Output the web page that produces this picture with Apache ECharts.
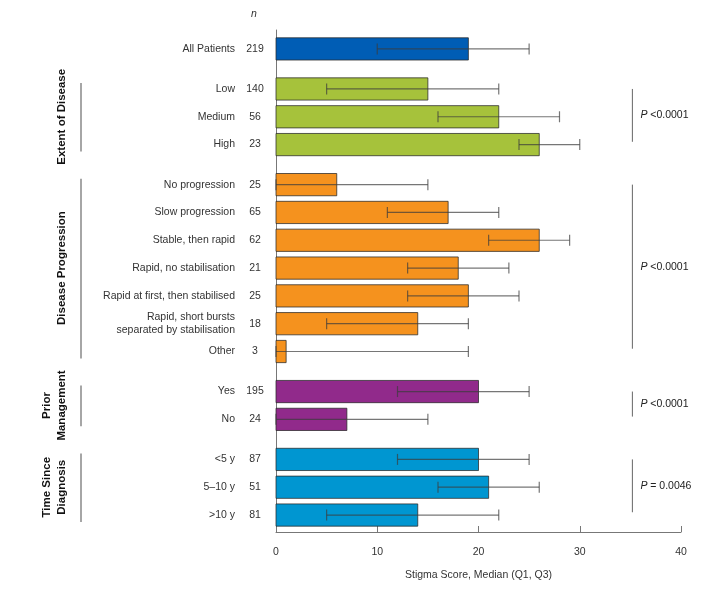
<!DOCTYPE html>
<html>
<head>
<meta charset="utf-8">
<script src="https://cdn.jsdelivr.net/npm/echarts@6/dist/echarts.min.js"></script>
<style>
  html, body { margin: 0; padding: 0; background: #fff; }
  #chart { width: 709px; height: 590px; }
</style>
</head>
<body>
<div id="chart"></div>
<script>
// rows, top to bottom
var categories = ['All Patients', 'Low', 'Medium', 'High',
    'No progression', 'Slow progression', 'Stable, then rapid', 'Rapid, no stabilisation',
    'Rapid at first, then stabilised', 'Rapid, short bursts\nseparated by stabilisation', 'Other',
    'Yes', 'No', '<5 y', '5\u201310 y', '>10 y'];
var nValues = [219, 140, 56, 23, 25, 65, 62, 21, 25, 18, 3, 195, 24, 87, 51, 81];
var medians = [19, 15, 22, 26, 6, 17, 26, 18, 19, 14, 1, 20, 7, 20, 21, 14];
var q1Values = [10, 5, 16, 24, 0, 11, 21, 13, 13, 5, 0, 12, 0, 12, 16, 5];
var q3Values = [25, 22, 28, 30, 15, 22, 29, 23, 24, 19, 19, 25, 15, 25, 26, 22];
var groupOf = [0, 1, 1, 1, 2, 2, 2, 2, 2, 2, 2, 3, 3, 4, 4, 4];
var groupNames = ['', 'Extent of Disease', 'Disease Progression', 'Prior\nManagement', 'Time Since\nDiagnosis'];
var pValues = ['', '<0.0001', '<0.0001', '<0.0001', '= 0.0046'];
var xTicks = [0, 10, 20, 30, 40];

var groupColors = ['#005DB5', '#A6C23B', '#F5921E', '#912A8B', '#0096D1'];
var FONT = 'Liberation Sans, Arial, Helvetica, sans-serif';
var GAP = 0.44;      // extra space between groups, in rows
var P_X = 35;        // where the p-value brackets sit on the x scale

var rowPos = categories.map(function (c, i) { return i + GAP * groupOf[i]; });

var barData = medians.map(function (m, i) { return [m, rowPos[i], groupOf[i]]; });
var errData = medians.map(function (m, i) { return [q1Values[i], q3Values[i], rowPos[i]]; });
var labelData = categories.map(function (c, i) { return [0, rowPos[i], i]; });

// first / last row of each group
var groupData = [];
for (var g = 1; g < groupNames.length; g++) {
    var first = groupOf.indexOf(g), last = groupOf.lastIndexOf(g);
    groupData.push([rowPos[first], rowPos[last], g]);
}

var chart = echarts.init(document.getElementById('chart'));

var option = {
    animation: false,
    grid: { left: 276, right: 28, top: 30, bottom: 58 },
    xAxis: {
        type: 'value',
        min: xTicks[0],
        max: xTicks[xTicks.length - 1],
        interval: 10,
        axisLine: { show: true, onZero: false, lineStyle: { color: '#777', width: 1 } },
        axisTick: { show: true, inside: true, length: 6, lineStyle: { color: '#777' } },
        splitLine: { show: false },
        axisLabel: { color: '#333', fontSize: 10.5, fontFamily: FONT, margin: 15 },
        name: 'Stigma Score, Median (Q1, Q3)',
        nameLocation: 'middle',
        nameGap: 38,
        nameTextStyle: { color: '#333', fontSize: 10.5, fontFamily: FONT }
    },
    yAxis: {
        type: 'value',
        inverse: true,
        min: -0.68,
        max: rowPos[rowPos.length - 1] + 0.61,
        axisLine: { show: true, onZero: false, lineStyle: { color: '#777', width: 1 } },
        axisTick: { show: false },
        axisLabel: { show: false },
        splitLine: { show: false }
    },
    graphic: [{
        type: 'text', left: 251, top: 9,
        style: { text: 'n', fontSize: 10.5, fontStyle: 'italic', fontFamily: FONT, fill: '#333' }
    }],
    series: [
        {
            // bars
            type: 'custom',
            silent: true,
            data: barData,
            encode: { x: 0, y: 1 },
            renderItem: function (params, api) {
                var start = api.coord([0, api.value(1)]);
                var end = api.coord([api.value(0), api.value(1)]);
                var h = api.size([0, 1])[1] * 0.8;
                return {
                    type: 'rect',
                    shape: { x: start[0], y: start[1] - h / 2, width: end[0] - start[0], height: h },
                    style: { fill: groupColors[api.value(2)], stroke: 'rgba(40,40,40,0.75)', lineWidth: 1 }
                };
            }
        },
        {
            // Q1 - Q3 whiskers
            type: 'custom',
            silent: true,
            data: errData,
            encode: { x: [0, 1], y: 2 },
            renderItem: function (params, api) {
                var a = api.coord([api.value(0), api.value(2)]);
                var b = api.coord([api.value(1), api.value(2)]);
                var cap = 5.5;
                var st = { stroke: 'rgba(60,60,60,0.7)', lineWidth: 1.2 };
                return {
                    type: 'group',
                    children: [
                        { type: 'line', shape: { x1: a[0], y1: a[1], x2: b[0], y2: b[1] }, style: st },
                        { type: 'line', shape: { x1: a[0], y1: a[1] - cap, x2: a[0], y2: a[1] + cap }, style: st },
                        { type: 'line', shape: { x1: b[0], y1: b[1] - cap, x2: b[0], y2: b[1] + cap }, style: st }
                    ]
                };
            }
        },
        {
            // row labels and n
            type: 'custom',
            silent: true,
            data: labelData,
            encode: { x: 0, y: 1 },
            renderItem: function (params, api) {
                var p = api.coord([0, api.value(1)]);
                var i = api.value(2);
                return {
                    type: 'group',
                    children: [
                        {
                            type: 'text', x: p[0] - 41, y: p[1],
                            style: {
                                text: categories[i], fill: '#333', fontSize: 10.5, fontFamily: FONT,
                                align: 'right', verticalAlign: 'middle', lineHeight: 12.5
                            }
                        },
                        {
                            type: 'text', x: p[0] - 21, y: p[1],
                            style: {
                                text: String(nValues[i]), fill: '#333', fontSize: 10.5, fontFamily: FONT,
                                align: 'center', verticalAlign: 'middle'
                            }
                        }
                    ]
                };
            }
        },
        {
            // group titles, left brackets, p-value brackets
            type: 'custom',
            silent: true,
            data: groupData,
            encode: { y: [0, 1] },
            renderItem: function (params, api) {
                var g = api.value(2);
                var top = api.coord([0, api.value(0)]);
                var bot = api.coord([0, api.value(1)]);
                var pTop = api.coord([P_X, api.value(0)]);
                var pBot = api.coord([P_X, api.value(1) - 0.1]);
                var mid = (top[1] + bot[1]) / 2;
                var lines = groupNames[g].split('\n').length;
                var lineX = top[0] - 195;
                return {
                    type: 'group',
                    children: [
                        {
                            type: 'line',
                            shape: { x1: lineX, y1: top[1] - 6, x2: lineX, y2: bot[1] + 7 },
                            style: { stroke: '#888', lineWidth: 1.5 }
                        },
                        {
                            type: 'text', x: lineX - 19 - (lines - 1) * 7.5, y: mid, rotation: Math.PI / 2,
                            style: {
                                text: groupNames[g], fill: '#111', fontSize: 11.5, fontWeight: 'bold',
                                fontFamily: FONT, align: 'center', verticalAlign: 'middle', lineHeight: 15
                            }
                        },
                        {
                            type: 'line',
                            shape: { x1: pTop[0] + 2, y1: pTop[1], x2: pTop[0] + 2, y2: pBot[1] },
                            style: { stroke: '#666', lineWidth: 1 }
                        },
                        {
                            type: 'text', x: pTop[0] + 10, y: (pTop[1] + pBot[1]) / 2,
                            style: {
                                text: '{i|P} ' + pValues[g], fill: '#222', fontSize: 10.5, fontFamily: FONT,
                                align: 'left', verticalAlign: 'middle',
                                rich: { i: { fontStyle: 'italic', fontSize: 10.5, fontFamily: FONT, fill: '#222' } }
                            }
                        }
                    ]
                };
            }
        }
    ]
};

chart.setOption(option);
</script>
</body>
</html>
